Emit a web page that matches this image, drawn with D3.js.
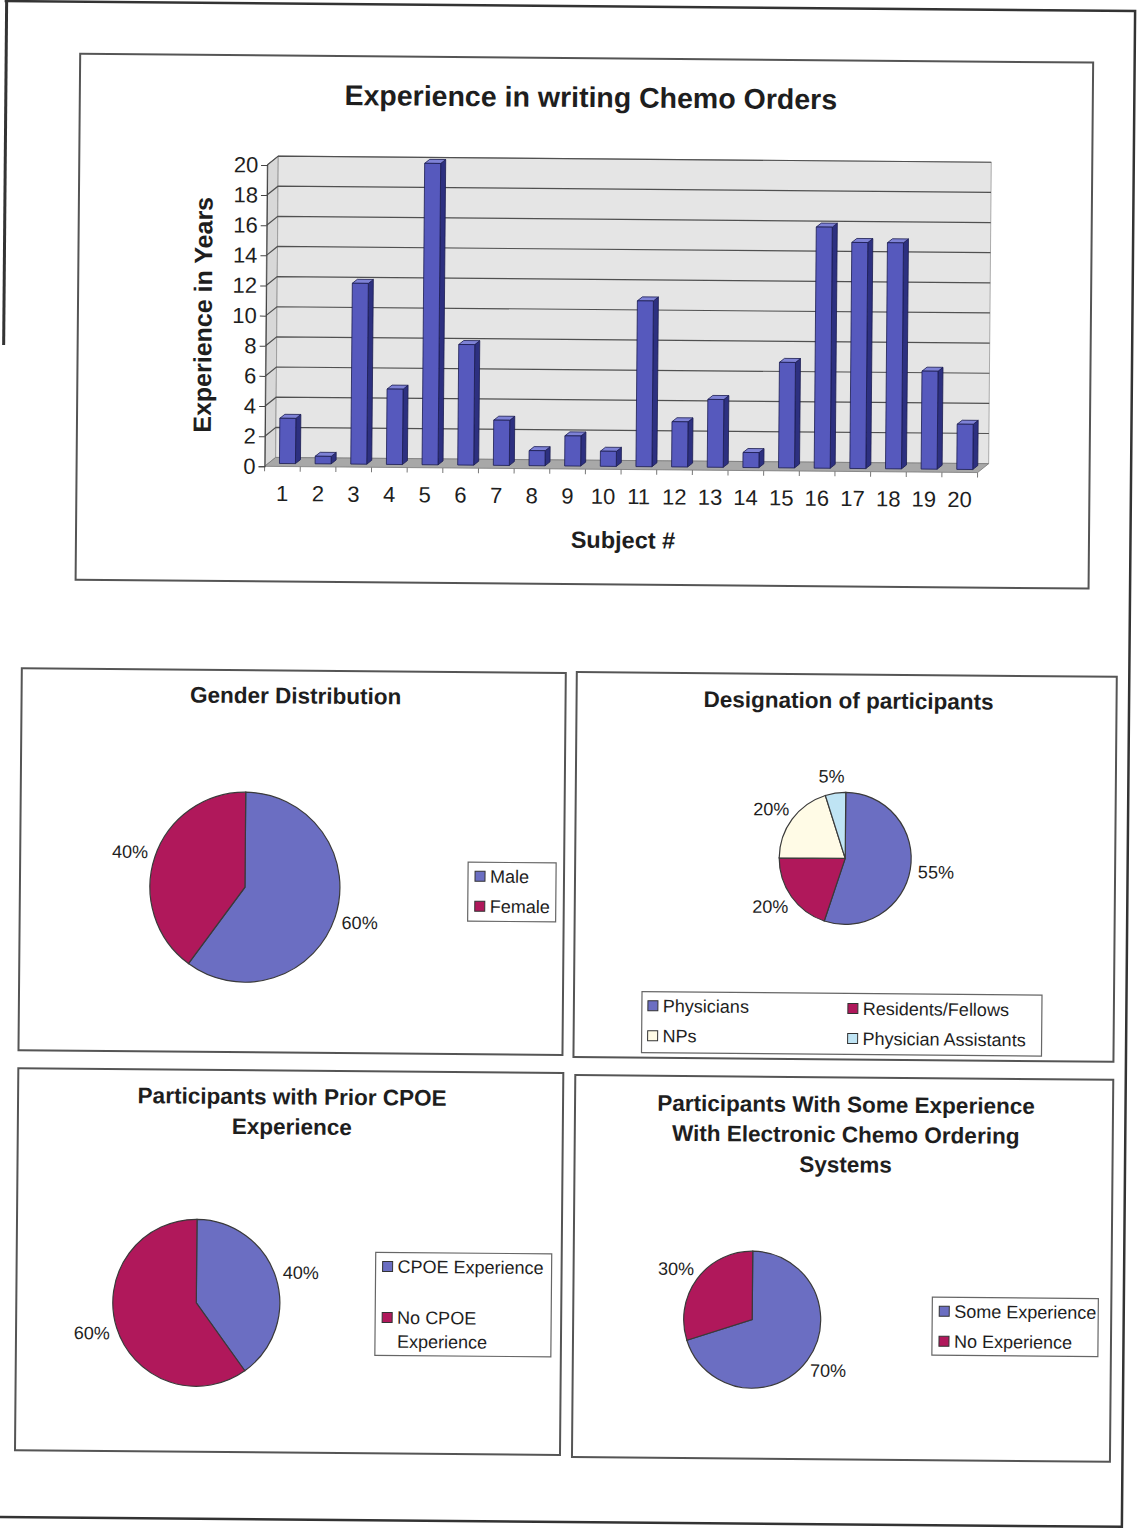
<!DOCTYPE html>
<html>
<head>
<meta charset="utf-8">
<script src="https://cdnjs.cloudflare.com/ajax/libs/d3/7.8.5/d3.min.js"></script>
<style>
body { margin: 0; background: #fff; }
text { font-family: "Liberation Sans", Arial, sans-serif; fill: #1e1e1e; }
</style>
</head>
<body>
<svg id="page" width="1137" height="1530"></svg>
<script>
// ---- data ----
var subjects = [1,2,3,4,5,6,7,8,9,10,11,12,13,14,15,16,17,18,19,20];
var experience = [3,0.5,12,5,20,8,3,1,2,1,11,3,4.5,1,7,16,15,15,6.5,3];
var yTicks = [0,2,4,6,8,10,12,14,16,18,20];

var genderLabels = ["Male","Female"];
var genderValues = [60,40];
var designationLabels = ["Physicians","Residents/Fellows","NPs","Physician Assistants"];
var designationValues = [55,20,20,5];
var cpoeLabels = ["CPOE Experience","No CPOE Experience"];
var cpoeValues = [40,60];
var chemoLabels = ["Some Experience","No Experience"];
var chemoValues = [70,30];

var BLUE = "#6b6ec2", RED = "#b0185b", CREAM = "#fffbe6", LIGHTBLUE = "#bfe4f4";

var svg = d3.select("#page");
// the scanned page is turned a little clockwise
var root = svg.append("g").attr("transform", "rotate(0.5 568 765)");

// page frame
root.append("path")
	.attr("d", "M-2,6H1128.5V1522H-10")
	.attr("fill", "none").attr("stroke", "#333").attr("stroke-width", 2.5);
root.append("path")
	.attr("d", "M0,6V350")
	.attr("fill", "none").attr("stroke", "#333").attr("stroke-width", 3);

function frame(x0, y0, x1, y1) {
	root.append("rect")
		.attr("x", x0).attr("y", y0)
		.attr("width", x1 - x0).attr("height", y1 - y0)
		.attr("fill", "none").attr("stroke", "#555").attr("stroke-width", 2);
}

// ---- bar chart ----
frame(74, 58, 1087, 584);

var x = d3.scaleBand().domain(subjects).range([262, 975]);
var y = d3.scaleLinear().domain([0, 20]).range([469, 167.6]);
var wdx = 11, wdy = -9;   // wall depth
var bdx = 5, bdy = -4;    // bar depth
var bar = root.append("g");

var xl = x.range()[0], xr = x.range()[1], y0 = y(0), yTop = y(20);

// side wall, back wall, floor
bar.append("path")
	.attr("d", "M"+xl+","+yTop+"L"+(xl+wdx)+","+(yTop+wdy)+"L"+(xl+wdx)+","+(y0+wdy)+"L"+xl+","+y0+"Z")
	.attr("fill", "#d8d8d8").attr("stroke", "#777").attr("stroke-width", 0.8);
bar.append("path")
	.attr("d", "M"+(xl+wdx)+","+(yTop+wdy)+"H"+(xr+wdx)+"V"+(y0+wdy)+"H"+(xl+wdx)+"Z")
	.attr("fill", "#e5e5e5").attr("stroke", "#999").attr("stroke-width", 0.8);
bar.append("path")
	.attr("d", "M"+xl+","+y0+"H"+xr+"L"+(xr+wdx)+","+(y0+wdy)+"H"+(xl+wdx)+"Z")
	.attr("fill", "#a8a8a8").attr("stroke", "#777").attr("stroke-width", 0.8);

// gridlines on back wall + side wall
bar.selectAll("path.grid")
	.data(yTicks.filter(function(t) { return t > 0; }))
	.enter().append("path")
	.attr("class", "grid")
	.attr("d", function(t) {
		return "M"+xl+","+y(t)+"L"+(xl+wdx)+","+(y(t)+wdy)+"H"+(xr+wdx);
	})
	.attr("fill", "none").attr("stroke", "#505050").attr("stroke-width", 1.2);

// x ticks under the floor edge
bar.selectAll("line.xt")
	.data(subjects.concat(["end"]))
	.enter().append("line")
	.attr("class", "xt")
	.attr("x1", function(d) { return d === "end" ? xr : x(d); })
	.attr("x2", function(d) { return d === "end" ? xr : x(d); })
	.attr("y1", y0).attr("y2", y0 + 5)
	.attr("stroke", "#777");

// bars
var bars = bar.selectAll("g.b")
	.data(subjects.map(function(s, i) { return {s: s, v: experience[i]}; }))
	.enter().append("g").attr("class", "b");
function bx0(d) { return x(d.s) + x.bandwidth() / 2 - 3; }
var bw = 16;
bars.append("path")  // side
	.attr("d", function(d) {
		var x1 = bx0(d) + bw, top = y(d.v) - 3, base = y0 - 3;
		return "M"+x1+","+top+"L"+(x1+bdx)+","+(top+bdy)+"L"+(x1+bdx)+","+(base+bdy)+"L"+x1+","+base+"Z";
	})
	.attr("fill", "#2d3080").attr("stroke", "#1a1c50").attr("stroke-width", 0.8);
bars.append("path")  // top
	.attr("d", function(d) {
		var a = bx0(d), top = y(d.v) - 3;
		return "M"+a+","+top+"H"+(a+bw)+"L"+(a+bw+bdx)+","+(top+bdy)+"H"+(a+bdx)+"Z";
	})
	.attr("fill", "#7e82d6").attr("stroke", "#1a1c50").attr("stroke-width", 0.8);
bars.append("rect")  // front
	.attr("x", bx0)
	.attr("y", function(d) { return y(d.v) - 3; })
	.attr("width", bw)
	.attr("height", function(d) { return y0 - y(d.v); })
	.attr("fill", "#5659bd").attr("stroke", "#1a1c50").attr("stroke-width", 0.8);

// axes
var yAxis = bar.append("g")
	.attr("transform", "translate(" + xl + ",0)")
	.call(d3.axisLeft(y).tickValues(yTicks).tickSize(6).tickPadding(3));
yAxis.select(".domain").attr("stroke", "#444");
yAxis.selectAll(".tick line").attr("stroke", "#444");
yAxis.selectAll(".tick text").style("font-size", "22px").attr("fill", "#1e1e1e")
	.style("font-family", "'Liberation Sans', Arial, sans-serif");

var xAxis = bar.append("g")
	.attr("transform", "translate(0," + y0 + ")")
	.call(d3.axisBottom(x).tickSize(0).tickPadding(19));
xAxis.select(".domain").remove();
xAxis.selectAll(".tick text").style("font-size", "22px").attr("fill", "#1e1e1e")
	.style("font-family", "'Liberation Sans', Arial, sans-serif");

root.append("text")
	.attr("x", 585).attr("y", 97).attr("dy", ".35em")
	.attr("text-anchor", "middle")
	.style("font-size", "28.5px").style("font-weight", "bold")
	.text("Experience in writing Chemo Orders");
root.append("text")
	.attr("transform", "translate(199,318) rotate(-90)")
	.attr("dy", ".35em")
	.attr("text-anchor", "middle")
	.style("font-size", "25px").style("font-weight", "bold")
	.text("Experience in Years");
root.append("text")
	.attr("x", 621).attr("y", 539.5).attr("dy", ".35em")
	.attr("text-anchor", "middle")
	.style("font-size", "23.5px").style("font-weight", "bold")
	.text("Subject #");

// ---- pies ----
function drawPie(cfg) {
	var g = root.append("g");
	frame(cfg.box[0], cfg.box[1], cfg.box[2], cfg.box[3]);

	cfg.title.forEach(function(line, i) {
		g.append("text")
			.attr("x", cfg.titleX).attr("y", cfg.titleY + i * 30).attr("dy", ".35em")
			.attr("text-anchor", "middle")
			.style("font-size", "22.5px").style("font-weight", "bold")
			.text(line);
	});

	var slices = d3.pie().sort(null).value(function(d) { return d; })(cfg.values);
	var arc = d3.arc().innerRadius(0).outerRadius(cfg.r);
	var pg = g.append("g").attr("transform", "translate(" + cfg.cx + "," + cfg.cy + ")");
	pg.selectAll("path")
		.data(slices)
		.enter().append("path")
		.attr("d", arc)
		.attr("fill", function(d, i) { return cfg.colors[i]; })
		.attr("stroke", "#3a3a3a").attr("stroke-width", 1.2);
	pg.selectAll("text")
		.data(slices)
		.enter().append("text")
		.attr("x", function(d) { return Math.sin((d.startAngle + d.endAngle) / 2) * (cfg.r + 26); })
		.attr("y", function(d) { return -Math.cos((d.startAngle + d.endAngle) / 2) * (cfg.r + 17); })
		.attr("dy", ".35em")
		.attr("text-anchor", "middle")
		.style("font-size", "18px")
		.text(function(d) { return d.data + "%"; });

	// legend
	var L = cfg.legend;
	var lg = g.append("g").attr("transform", "translate(" + L.x + "," + L.y + ")");
	lg.append("rect")
		.attr("width", L.w).attr("height", L.h)
		.attr("fill", "#fff").attr("stroke", "#666").attr("stroke-width", 1.2);
	var items = lg.selectAll("g.item")
		.data(cfg.labels)
		.enter().append("g").attr("class", "item")
		.attr("transform", function(d, i) { return "translate(" + L.pos[i][0] + "," + L.pos[i][1] + ")"; });
	items.append("rect")
		.attr("x", 0).attr("y", -5).attr("width", 10).attr("height", 10)
		.attr("fill", function(d, i) { return cfg.colors[i]; })
		.attr("stroke", "#333").attr("stroke-width", 1);
	items.each(function(d) {
		var lines = L.wrap && L.wrap[d] ? L.wrap[d] : [d];
		var sel = d3.select(this);
		lines.forEach(function(t, k) {
			sel.append("text")
				.attr("x", 15).attr("y", k * 24).attr("dy", ".35em")
				.style("font-size", "18px")
				.text(t);
		});
	});
}

drawPie({
	box: [21, 673, 565, 1055],
	title: ["Gender Distribution"], titleX: 295, titleY: 698,
	cx: 246, cy: 890, r: 95,
	values: genderValues, labels: genderLabels, colors: [BLUE, RED],
	legend: {x: 469, y: 863, w: 88, h: 59, pos: [[7, 14], [7, 44]]}
});
drawPie({
	box: [576, 672, 1116, 1057],
	title: ["Designation of participants"], titleX: 848, titleY: 698,
	cx: 846, cy: 856, r: 66,
	values: designationValues, labels: designationLabels, colors: [BLUE, RED, CREAM, LIGHTBLUE],
	legend: {x: 644, y: 991, w: 400, h: 61, pos: [[6, 14], [206, 15], [6, 44], [206, 45]]}
});
drawPie({
	box: [21, 1073, 566, 1455],
	title: ["Participants with Prior CPOE", "Experience"], titleX: 295, titleY: 1099,
	cx: 201, cy: 1306, r: 83.5,
	values: cpoeValues, labels: cpoeLabels, colors: [BLUE, RED],
	legend: {x: 380, y: 1254, w: 176, h: 103, pos: [[7, 14], [7, 65]],
		wrap: {"No CPOE Experience": ["No CPOE", "Experience"]}}
});
drawPie({
	box: [578, 1075, 1116, 1457],
	title: ["Participants With Some Experience", "With Electronic Chemo Ordering", "Systems"],
	titleX: 849, titleY: 1102,
	cx: 757, cy: 1318, r: 68.5,
	values: chemoValues, labels: chemoLabels, colors: [BLUE, RED],
	legend: {x: 937, y: 1294, w: 166, h: 58, pos: [[7, 14], [7, 44]]}
});
</script>
</body>
</html>
